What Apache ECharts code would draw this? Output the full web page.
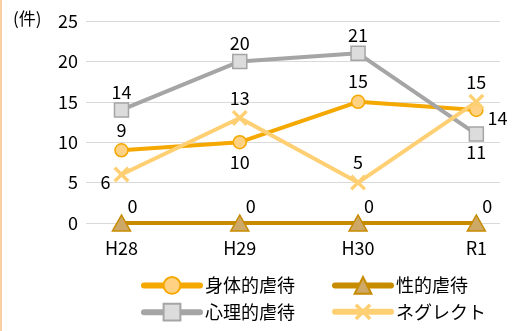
<!DOCTYPE html>
<html>
<head>
<meta charset="utf-8">
<script src="https://cdn.jsdelivr.net/npm/echarts@6/dist/echarts.min.js"></script>
<style>
  html, body { margin: 0; padding: 0; background: #fff; }
  #chart { width: 516px; height: 331px; }
</style>
</head>
<body>
<div id="chart"></div>
<script>
// 年度
const categories = ['H28', 'H29', 'H30', 'R1'];
// 件数
const physical = [9, 10, 15, 14];
const sexual = [0, 0, 0, 0];
const psychological = [14, 20, 21, 11];
const neglect = [6, 13, 5, 15];
const yTicks = [0, 5, 10, 15, 20, 25];

// ラベル位置
const physicalPos = ['top', 'bottom', 'top', 'right'];
const psychologicalPos = ['top', 'top', 'top', 'bottom'];
const neglectPos = ['left', 'top', 'top', 'top'];

const crossPath = 'path://M3,0 L10,7 L17,0 L20,3 L13,10 L20,17 L17,20 L10,13 L3,20 L0,17 L7,10 L0,3 Z';
const font = '"Noto Sans CJK JP", "Noto Sans", sans-serif';

function toData(values, pos) {
  return values.map((v, i) => {
    const item = { value: [i, v] };
    if (pos) {
      item.label = { position: pos[i] };
      // 横に置くラベルは少し下げる
      if (pos[i] === 'left' || pos[i] === 'right') {
        item.label.offset = [0, 8];
      }
    }
    return item;
  });
}

const chart = echarts.init(document.getElementById('chart'));

const labelBase = {
  show: true,
  color: '#000',
  fontSize: 18,
  fontFamily: font,
  distance: 4
};

const legendBase = {
  orient: 'vertical',
  top: 271,
  itemWidth: 56,
  itemHeight: 21,
  itemGap: 8,
  textStyle: { color: '#000', fontSize: 18 },
  lineStyle: { width: 6, cap: 'round' }
};

const option = {
  animation: false,
  textStyle: { fontFamily: font },
  graphic: [
    {
      type: 'rect',
      left: 0,
      top: 0,
      shape: { width: 2, height: 331 },
      style: { fill: '#f9cfa2' }
    },
    {
      type: 'text',
      left: 13,
      top: 10,
      style: { text: '(件)', fontSize: 17, fill: '#000', fontFamily: font }
    }
  ],
  grid: {
    left: 86,
    right: 16,
    top: 21,
    bottom: 108
  },
  xAxis: {
    type: 'value',
    min: -0.3,
    max: 3.2,
    axisLine: { show: false },
    axisTick: { show: false },
    splitLine: { show: false },
    axisLabel: {
      customValues: [0, 1, 2, 3],
      formatter: v => categories[Math.round(v)],
      color: '#000',
      fontSize: 18,
      margin: 16
    }
  },
  yAxis: {
    type: 'value',
    min: yTicks[0],
    max: yTicks[yTicks.length - 1],
    interval: 5,
    axisLine: { show: false },
    axisTick: { show: false },
    axisLabel: { color: '#000', fontSize: 18, margin: 8 },
    splitLine: { lineStyle: { color: '#d9d9d9', width: 1 } }
  },
  legend: [
    Object.assign({}, legendBase, { left: 136, data: ['身体的虐待', '心理的虐待'] }),
    Object.assign({}, legendBase, { left: 327, data: ['性的虐待', 'ネグレクト'] })
  ],
  series: [
    {
      name: '身体的虐待',
      type: 'line',
      data: toData(physical, physicalPos),
      symbol: 'circle',
      symbolSize: 13,
      lineStyle: { color: '#f5a800', width: 4 },
      itemStyle: { color: '#ffd283', borderColor: '#f5a800', borderWidth: 1.5 },
      label: labelBase
    },
    {
      name: '性的虐待',
      type: 'line',
      data: toData(sexual),
      symbol: 'triangle',
      symbolSize: [18, 16],
      lineStyle: { color: '#c78b00', width: 4 },
      itemStyle: { color: '#cda866', borderColor: '#c78b00', borderWidth: 1.5 },
      label: Object.assign({}, labelBase, { position: 'top', offset: [11, 5] })
    },
    {
      name: '心理的虐待',
      type: 'line',
      data: toData(psychological, psychologicalPos),
      symbol: 'rect',
      symbolSize: 14,
      lineStyle: { color: '#a5a5a5', width: 4 },
      itemStyle: { color: '#dcdcdc', borderColor: '#a5a5a5', borderWidth: 1.5 },
      label: Object.assign({}, labelBase, { distance: 1 })
    },
    {
      name: 'ネグレクト',
      type: 'line',
      data: toData(neglect, neglectPos),
      symbol: crossPath,
      symbolSize: 16,
      lineStyle: { color: '#ffcf73', width: 4 },
      itemStyle: { color: '#ffcf73' },
      label: Object.assign({}, labelBase, { distance: 3 })
    }
  ]
};

chart.setOption(option);
</script>
</body>
</html>
